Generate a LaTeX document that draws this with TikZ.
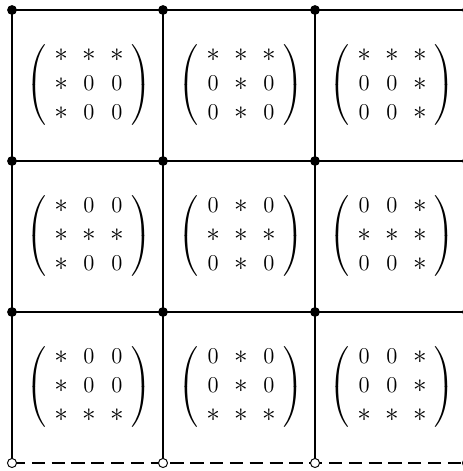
\documentclass[tikz,border=0pt]{standalone}
\usepackage{amsmath}
\usepackage{graphicx}
\newcommand{\mymat}[1]{\left(\hspace{0.5pt}\begin{array}{ccc}#1\end{array}\hspace{0.5pt}\right)}
\newcommand{\st}{\mathord{\scalebox{1.2}{$\ast$}}}
\begin{document}
\renewcommand{\arraystretch}{1.03}
\setlength{\arraycolsep}{3.8pt}
\begin{tikzpicture}[x=0.53pt,y=-0.53pt,
  gridline/.style={line width=1pt},
  dashline/.style={line width=1pt,dash pattern=on 7pt off 3.5pt},
  dot/.style={circle,fill=black,inner sep=0pt,minimum size=5.2pt},
  odot/.style={circle,draw=black,fill=white,line width=0.5pt,inner sep=0pt,minimum size=4.8pt},
  mat/.style={inner sep=0pt,font=\fontsize{12.5}{15}\selectfont}]
\useasboundingbox (0,0) rectangle (463,471);
\clip (0,0) rectangle (463,471);
\foreach \r/\y in {0/10,1/161,2/312,3/463}{
  \foreach \c/\x in {0/12,1/163,2/315,3/467}{
    \coordinate (p-\r-\c) at (\x,\y);
  }
}
% grid lines
\foreach \r in {0,1,2}{
  \draw[gridline] (p-\r-0) -- (p-\r-3);
}
\foreach \c in {0,1,2}{
  \draw[gridline] (p-0-\c) -- (p-3-\c);
}
\draw[dashline] (p-3-0) -- (p-3-3);
% vertices
\foreach \r in {0,1,2}{
  \foreach \c in {0,1,2,3}{
    \node[dot] (d-\r-\c) at (p-\r-\c) {};
  }
}
\foreach \c in {0,1,2,3}{
  \node[odot] (d-3-\c) at (p-3-\c) {};
}
% matrices
\node[mat] (m-0-0) at (89,85) {$\mymat{\st&\st&\st\\ \st&0&0\\ \st&0&0}$};
\node[mat] (m-0-1) at (241,85) {$\mymat{\st&\st&\st\\ 0&\st&0\\ 0&\st&0}$};
\node[mat] (m-0-2) at (392,85) {$\mymat{\st&\st&\st\\ 0&0&\st\\ 0&0&\st}$};
\node[mat] (m-1-0) at (89,236) {$\mymat{\st&0&0\\ \st&\st&\st\\ \st&0&0}$};
\node[mat] (m-1-1) at (241,236) {$\mymat{0&\st&0\\ \st&\st&\st\\ 0&\st&0}$};
\node[mat] (m-1-2) at (392,236) {$\mymat{0&0&\st\\ \st&\st&\st\\ 0&0&\st}$};
\node[mat] (m-2-0) at (89,387) {$\mymat{\st&0&0\\ \st&0&0\\ \st&\st&\st}$};
\node[mat] (m-2-1) at (241,387) {$\mymat{0&\st&0\\ 0&\st&0\\ \st&\st&\st}$};
\node[mat] (m-2-2) at (392,387) {$\mymat{0&0&\st\\ 0&0&\st\\ \st&\st&\st}$};
\end{tikzpicture}
\end{document}
